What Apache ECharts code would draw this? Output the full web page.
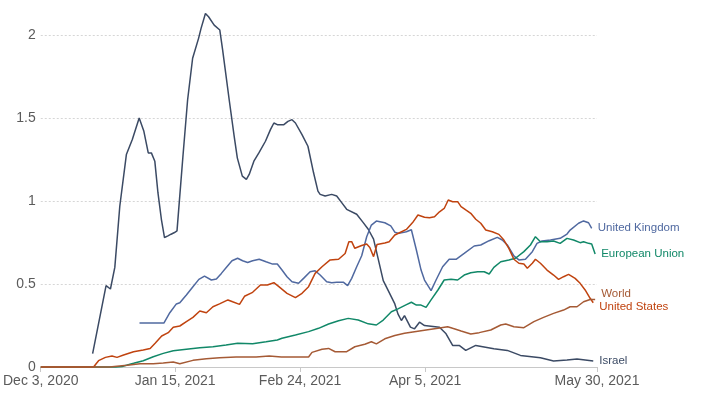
<!DOCTYPE html>
<html>
<head>
<meta charset="utf-8">
<script src="https://cdn.jsdelivr.net/npm/echarts@6/dist/echarts.min.js"></script>
<style>html,body{margin:0;padding:0;background:#fff}#c{width:720px;height:404px}</style>
</head>
<body>
<div id="c"></div>
<script>
// x = days since Dec 3, 2020
const tickDays = [0, 43, 83, 123, 178];
const tickLabels = ["Dec 3, 2020", "Jan 15, 2021", "Feb 24, 2021", "Apr 5, 2021", "May 30, 2021"];
const yTicks = [0, 0.5, 1, 1.5, 2];

const seriesNames = ["Israel", "United Kingdom", "European Union", "United States", "World"];

const israel = [[16.6,0.08],[20.9,0.49],[22.3,0.47],[23.7,0.60],[25.3,0.97],[27.4,1.28],[29.3,1.37],[31.5,1.50],[33.0,1.42],[34.4,1.29],[35.4,1.29],[36.5,1.24],[37.5,1.05],[38.6,0.89],[39.6,0.78],[40.7,0.79],[41.7,0.80],[42.8,0.81],[43.6,0.82],[44.4,1.01],[45.5,1.27],[47.0,1.61],[48.6,1.86],[50.5,1.98],[51.3,2.04],[52.7,2.13],[53.7,2.11],[55.5,2.06],[57.3,2.03],[58.2,1.91],[60.3,1.61],[61.9,1.39],[62.9,1.26],[64.5,1.15],[65.8,1.13],[66.7,1.16],[68.2,1.24],[69.8,1.29],[71.9,1.36],[73.5,1.43],[74.6,1.47],[75.7,1.46],[77.8,1.46],[79.1,1.48],[80.4,1.49],[81.5,1.47],[83.6,1.40],[85.5,1.33],[87.3,1.17],[88.7,1.06],[89.4,1.04],[91.0,1.03],[93.1,1.04],[94.7,1.03],[96.3,0.99],[97.9,0.95],[101.1,0.92],[103.2,0.87],[104.8,0.83],[106.5,0.77],[108.0,0.65],[109.6,0.52],[111.2,0.46],[113.3,0.38],[114.3,0.32],[115.4,0.28],[116.4,0.31],[118.3,0.24],[119.6,0.23],[121.2,0.27],[122.8,0.25],[127.6,0.24],[129.7,0.20],[131.8,0.13],[133.9,0.13],[136.0,0.10],[139.2,0.13],[145.0,0.11],[149.3,0.10],[153.5,0.07],[159.9,0.056],[164.1,0.036],[168.4,0.042],[171.6,0.048],[174.2,0.042],[176.8,0.036]];

const uk = [[31.6,0.265],[39.4,0.265],[41.3,0.327],[43.4,0.38],[44.5,0.387],[46.6,0.434],[48.7,0.484],[50.6,0.528],[52.4,0.548],[54.6,0.524],[56.2,0.53],[57.8,0.564],[59.3,0.598],[61.2,0.64],[63.0,0.655],[64.6,0.64],[66.2,0.63],[67.8,0.64],[69.9,0.649],[72.1,0.634],[74.2,0.62],[75.7,0.62],[77.2,0.584],[78.8,0.544],[80.4,0.514],[82.5,0.504],[84.1,0.534],[86.2,0.574],[87.8,0.58],[89.4,0.554],[91.5,0.514],[93.1,0.508],[94.7,0.51],[96.9,0.51],[98.2,0.49],[99.5,0.534],[101.1,0.604],[102.7,0.67],[104.3,0.785],[105.8,0.855],[107.4,0.879],[110.1,0.869],[112.0,0.85],[113.3,0.812],[114.6,0.805],[117.0,0.815],[118.6,0.827],[120.2,0.705],[121.7,0.584],[122.8,0.524],[124.9,0.46],[126.5,0.524],[128.6,0.604],[130.7,0.649],[132.9,0.649],[135.5,0.684],[138.7,0.729],[140.8,0.735],[143.5,0.761],[146.1,0.781],[147.7,0.765],[149.3,0.735],[151.4,0.669],[153.0,0.645],[155.1,0.649],[157.3,0.695],[158.8,0.745],[160.4,0.759],[163.1,0.765],[166.2,0.775],[168.4,0.801],[169.4,0.825],[172.1,0.866],[173.7,0.88],[175.3,0.869],[176.3,0.835]];

const eu = [[0,0],[24,0],[26,0.003],[29.7,0.022],[32.8,0.038],[36.0,0.062],[39.2,0.082],[42.4,0.098],[46.6,0.107],[50.9,0.116],[55.1,0.122],[59.3,0.133],[63.0,0.143],[67.8,0.14],[72.1,0.152],[75.7,0.163],[77.2,0.173],[81.5,0.193],[85.7,0.213],[88.9,0.233],[92.1,0.259],[95.3,0.279],[98.4,0.293],[101.6,0.283],[104.8,0.26],[107.4,0.253],[109.6,0.283],[112.2,0.333],[114.3,0.35],[116.7,0.373],[118.6,0.39],[120.2,0.373],[121.7,0.373],[123.3,0.359],[124.9,0.404],[127.1,0.464],[129.1,0.524],[131.3,0.528],[133.4,0.524],[135.5,0.554],[137.6,0.568],[139.8,0.574],[141.9,0.574],[143.5,0.56],[145.0,0.60],[147.2,0.634],[149.8,0.645],[151.9,0.655],[154.6,0.695],[156.7,0.735],[158.3,0.785],[159.9,0.755],[162.0,0.755],[164.1,0.759],[166.2,0.745],[168.4,0.775],[170.5,0.765],[172.6,0.749],[173.7,0.755],[175.3,0.745],[176.3,0.741],[177.4,0.681]];

const us = [[0,0],[16.9,0],[18.5,0.038],[20.7,0.058],[22.8,0.066],[24.4,0.058],[26.5,0.072],[29.7,0.092],[32.8,0.102],[35.0,0.112],[36.6,0.143],[38.7,0.187],[40.8,0.207],[42.4,0.239],[44.5,0.247],[46.6,0.273],[48.7,0.299],[50.9,0.337],[53.0,0.327],[55.1,0.363],[57.2,0.38],[59.9,0.404],[61.4,0.393],[63.6,0.377],[65.2,0.426],[67.8,0.45],[70.3,0.494],[72.5,0.494],[74.6,0.508],[76.2,0.484],[78.8,0.444],[81.5,0.418],[83.6,0.444],[85.7,0.484],[87.8,0.564],[90.0,0.604],[92.6,0.645],[95.3,0.649],[97.4,0.684],[98.6,0.755],[99.5,0.755],[100.5,0.715],[102.7,0.732],[104.3,0.741],[105.3,0.72],[106.5,0.665],[107.6,0.738],[110.1,0.747],[111.5,0.755],[113.3,0.795],[114.8,0.809],[117.0,0.829],[119.0,0.87],[120.7,0.916],[122.8,0.902],[124.4,0.899],[126.0,0.905],[127.6,0.935],[129.1,0.955],[130.4,1.006],[131.8,0.996],[133.4,0.996],[134.5,0.966],[136.0,0.946],[137.6,0.926],[139.2,0.89],[140.8,0.866],[142.4,0.825],[144.5,0.815],[146.6,0.799],[148.2,0.765],[149.8,0.715],[151.4,0.649],[153.0,0.625],[154.6,0.62],[155.7,0.595],[157.3,0.625],[158.3,0.649],[159.9,0.625],[162.0,0.584],[164.1,0.554],[165.7,0.528],[167.3,0.544],[168.9,0.558],[171.0,0.534],[172.6,0.504],[174.2,0.464],[175.8,0.414],[176.8,0.387]];

const world = [[0,0],[22,0],[27.6,0.01],[31.8,0.02],[36.0,0.02],[39.2,0.024],[42.4,0.03],[44.5,0.02],[48.7,0.04],[53.0,0.05],[57.2,0.056],[62.5,0.06],[67.3,0.06],[67.8,0.07],[68.9,0.06],[73.1,0.066],[77,0.06],[85.7,0.06],[86.8,0.088],[90,0.107],[92.1,0.112],[94.2,0.092],[97.9,0.092],[100.5,0.122],[103.7,0.137],[105.8,0.152],[107.4,0.139],[110.1,0.17],[113.3,0.19],[116.4,0.203],[119.6,0.213],[123.3,0.223],[127.1,0.233],[130.2,0.243],[131.8,0.233],[134.5,0.217],[137.6,0.199],[140.3,0.207],[144.0,0.223],[147.2,0.253],[148.8,0.259],[151.4,0.243],[154.6,0.237],[157.8,0.273],[160.9,0.299],[164.1,0.323],[167.3,0.343],[169.4,0.363],[171.6,0.363],[173.7,0.393],[175.8,0.407],[177.4,0.407]];

const seriesData = [israel, uk, eu, us, world];
const colors = ["#3b4a64", "#5069a0", "#118868", "#c0430f", "#a55a35"];
const labelOffsets = [[0,0],[0,-1],[0,0],[0,4],[0,-6]];

const FONT = '"Liberation Sans", Arial, sans-serif';
const chart = echarts.init(document.getElementById('c'), null, {renderer: 'canvas'});
chart.setOption({
  animation: false,
  backgroundColor: '#fff',
  grid: {left: 37, right: 123, top: 0, bottom: 37, containLabel: false},
  xAxis: {
    type: 'value', min: 0, max: 178,
    axisLine: {show: true, lineStyle: {color: '#c8c8c8', width: 1}},
    axisTick: {show: true, length: 5, lineStyle: {color: '#c8c8c8'}, customValues: tickDays},
    axisLabel: {
      customValues: tickDays, margin: 7, color: '#5b5b5b', fontSize: 14, fontFamily: FONT,
      formatter: function (v) { const i = tickDays.indexOf(v); return i >= 0 ? tickLabels[i] : ''; }
    },
    splitLine: {show: false}
  },
  yAxis: {
    type: 'value', min: 0, max: 2.211,
    axisLine: {show: false},
    axisTick: {show: false, customValues: yTicks},
    axisLabel: {customValues: yTicks, margin: 5, color: '#5b5b5b', fontSize: 14, fontFamily: FONT,
      formatter: function (v) { return String(v); }},
    splitLine: {show: true, lineStyle: {color: '#d6d6d6', type: [2, 2], width: 1}}
  },
  series: seriesNames.map(function (name, i) {
    return {
      name: name, type: 'line', data: seriesData[i], showSymbol: false, symbol: 'none',
      lineStyle: {color: colors[i], width: 1.5}, itemStyle: {color: colors[i]},
      clip: false,
      endLabel: {show: true, formatter: name, color: colors[i], fontSize: 11.5,
        fontFamily: FONT, distance: 6, offset: labelOffsets[i]}
    };
  })
});
</script>
</body>
</html>
